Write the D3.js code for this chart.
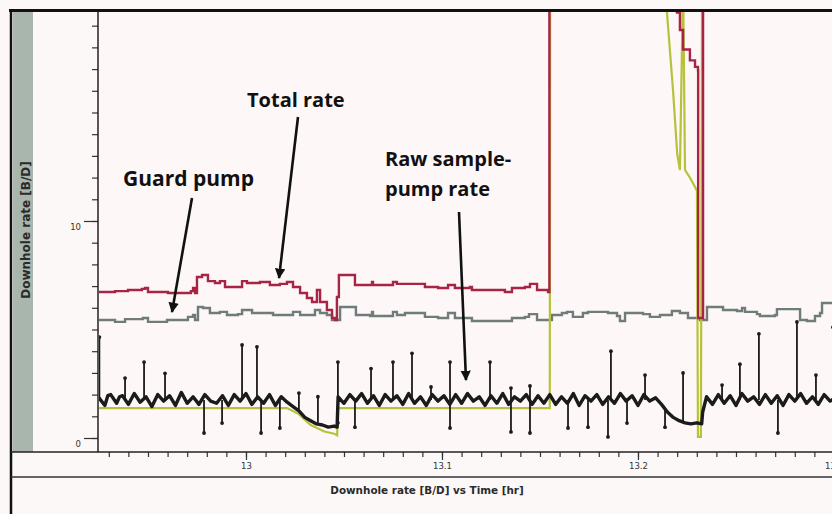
<!DOCTYPE html>
<html>
<head>
<meta charset="utf-8">
<script src="https://cdn.jsdelivr.net/npm/d3@7"></script>
<style>
  html, body { margin: 0; padding: 0; background: #fcf8f8; overflow: hidden; }
  svg { display: block; font-family: "Open Sans", "Liberation Sans", sans-serif; }
</style>
</head>
<body>
<div id="container"></div>
<script>
/* CONSTANTS AND GLOBALS */
const width = 832;
const height = 514;
const plot = { left: 98, right: 882, top: 12, bottom: 452 };

/* DATA  (time [hr], rate [B/D]) */
const totalRate = [
  [12.9245, 6.73], [12.9332, 6.77], [12.9398, 6.82], [12.9469, 6.87], [12.9485, 6.91], [12.95, 6.73],
  [12.9602, 6.68], [12.9719, 6.77], [12.973, 6.91], [12.974, 6.68], [12.975, 7.42], [12.9776, 7.51],
  [12.9806, 7.23], [12.9842, 7.14], [12.9867, 7.23], [12.9893, 6.96], [12.9959, 6.96], [12.998, 7.23],
  [13.0005, 7.14], [13.0071, 7.19], [13.0122, 7.05], [13.0173, 7.10], [13.0209, 7.19], [13.024, 6.96],
  [13.0276, 6.68], [13.0311, 6.45], [13.0337, 6.27], [13.0362, 6.82], [13.0378, 6.27], [13.0413, 5.90],
  [13.0439, 5.53], [13.0454, 5.44], [13.0464, 6.50], [13.0474, 7.51], [13.0546, 7.51], [13.0556, 7.05],
  [13.0633, 7.05], [13.0643, 7.19], [13.0648, 7.05], [13.0745, 7.05], [13.075, 7.19], [13.077, 7.10],
  [13.0811, 7.10], [13.0913, 6.96], [13.098, 6.91], [13.1031, 7.05], [13.1066, 6.91], [13.1143, 6.96],
  [13.1153, 6.82], [13.1321, 6.73], [13.1357, 6.91], [13.1423, 6.96], [13.1449, 7.10], [13.1485, 6.82],
  [13.1541, 6.73], [13.1548, 21], [13.2195, 21], [13.2199, 19.6], [13.2214, 18.8], [13.223, 17.9],
  [13.2265, 17.4], [13.2291, 17.1], [13.2306, 16.96], [13.2307, 5.53], [13.2327, 5.53], [13.2332, 21],
  [13.301, 21]
];

const guardPump = [
  [12.9245, 5.44], [12.9332, 5.35], [12.9383, 5.48], [12.9474, 5.53], [12.95, 5.35], [12.9597, 5.44],
  [12.9704, 5.58], [12.973, 5.67], [12.974, 5.44], [12.9755, 6.04], [12.9781, 5.99], [12.9816, 5.76],
  [12.9867, 5.81], [12.9903, 5.67], [12.9959, 5.71], [12.998, 5.90], [13.0031, 5.76], [13.0087, 5.76],
  [13.0138, 5.67], [13.024, 5.81], [13.0276, 5.67], [13.0352, 5.90], [13.0378, 5.76], [13.0413, 5.67],
  [13.0439, 5.44], [13.0469, 5.44], [13.048, 6.04], [13.0546, 6.04], [13.0561, 5.67], [13.0633, 5.62],
  [13.0643, 5.81], [13.0648, 5.62], [13.0735, 5.62], [13.075, 5.81], [13.077, 5.67], [13.0811, 5.76],
  [13.0913, 5.58], [13.098, 5.53], [13.1031, 5.76], [13.1066, 5.53], [13.1153, 5.39], [13.1321, 5.39],
  [13.1357, 5.53], [13.1423, 5.58], [13.1444, 5.71], [13.1485, 5.44], [13.1541, 5.44], [13.1561, 5.67],
  [13.1612, 5.76], [13.1638, 5.81], [13.1668, 5.58], [13.1719, 5.76], [13.1745, 5.81], [13.1821, 5.81],
  [13.1847, 5.76], [13.1893, 5.62], [13.1908, 5.39], [13.1934, 5.76], [13.2026, 5.71], [13.2061, 5.58],
  [13.2112, 5.67], [13.2173, 5.85], [13.2214, 5.76], [13.2255, 5.53], [13.2316, 5.44], [13.2332, 5.44],
  [13.2352, 6.04], [13.2418, 6.04], [13.2434, 5.90], [13.2505, 5.85], [13.2531, 5.99], [13.2546, 5.81],
  [13.2607, 5.71], [13.2622, 5.62], [13.2699, 5.67], [13.2709, 5.94], [13.2811, 5.94], [13.2827, 5.44],
  [13.2862, 5.39], [13.2903, 5.62], [13.2929, 5.76], [13.2939, 6.22], [13.301, 6.22]
];

const rawSample = [
  [12.925, 1.85], [12.928, 1.5], [12.9295, 1.95], [12.931, 2.0], [12.934, 1.6], [12.9355, 1.9],
  [12.937, 1.95], [12.940, 1.55], [12.943, 2.05], [12.946, 1.65], [12.949, 1.9], [12.952, 1.45],
  [12.955, 2.0], [12.958, 1.7], [12.961, 1.95], [12.964, 1.5], [12.967, 2.1], [12.970, 1.6],
  [12.973, 1.9], [12.976, 1.55], [12.979, 2.0], [12.982, 1.7], [12.985, 1.6], [12.988, 1.95],
  [12.991, 1.5], [12.994, 2.0], [12.997, 1.7], [13.000, 2.05], [13.003, 1.55], [13.006, 1.9],
  [13.009, 1.6], [13.012, 2.0], [13.015, 1.5], [13.018, 1.9], [13.021, 1.65], [13.024, 1.45],
  [13.027, 1.25], [13.030, 0.95], [13.033, 0.8], [13.036, 0.65], [13.039, 0.6], [13.042, 0.5],
  [13.045, 0.55], [13.0465, 0.5], [13.047, 1.9], [13.050, 1.6], [13.053, 2.0], [13.056, 1.7],
  [13.059, 2.05], [13.062, 1.6], [13.065, 1.95], [13.068, 1.5], [13.071, 2.0], [13.074, 1.7],
  [13.077, 1.95], [13.080, 1.55], [13.083, 2.05], [13.086, 1.6], [13.089, 1.9], [13.092, 1.5],
  [13.095, 2.0], [13.098, 1.7], [13.101, 1.95], [13.104, 1.55], [13.107, 2.0], [13.110, 1.6],
  [13.113, 2.05], [13.116, 1.7], [13.119, 1.9], [13.122, 1.5], [13.125, 1.95], [13.128, 1.6],
  [13.131, 2.05], [13.134, 1.55], [13.137, 1.9], [13.140, 1.7], [13.143, 2.0], [13.146, 1.55],
  [13.149, 1.95], [13.152, 1.6], [13.155, 2.0], [13.158, 1.55], [13.161, 1.9], [13.164, 1.6],
  [13.167, 2.05], [13.170, 1.5], [13.173, 1.95], [13.176, 1.7], [13.179, 2.0], [13.182, 1.55],
  [13.185, 1.9], [13.188, 1.6], [13.191, 2.05], [13.194, 1.7], [13.197, 1.95], [13.200, 1.5],
  [13.203, 2.0], [13.206, 1.7], [13.209, 1.85], [13.212, 1.55], [13.215, 1.2], [13.218, 0.95],
  [13.221, 0.8], [13.224, 0.7], [13.227, 0.65], [13.230, 0.7], [13.2325, 0.65], [13.233, 1.2],
  [13.235, 1.9], [13.238, 1.55], [13.241, 2.0], [13.244, 1.6], [13.247, 1.95], [13.250, 1.5],
  [13.253, 2.05], [13.256, 1.7], [13.259, 1.9], [13.262, 1.55], [13.265, 2.0], [13.268, 1.6],
  [13.271, 1.95], [13.274, 1.5], [13.277, 2.0], [13.280, 1.7], [13.283, 2.05], [13.286, 1.6],
  [13.289, 1.9], [13.292, 1.55], [13.295, 2.0], [13.298, 1.7], [13.301, 1.85]
];

// raw sample-pump spikes: [time, from, to]
const rawSpikes = [
  [12.9252, 1.75, 4.65], [12.9383, 1.75, 2.76], [12.948, 1.75, 3.5], [12.9587, 1.75, 2.98],
  [12.9786, 1.75, 0.23], [12.9878, 1.75, 0.69], [12.998, 1.75, 4.29], [13.0056, 1.75, 4.2],
  [13.0077, 1.75, 0.23], [13.0173, 1.75, 0.46], [13.027, 1.2, 2.07], [13.0367, 0.7, 1.9],
  [13.0469, 1.75, 3.5], [13.0469, 1.75, 0.7], [13.0556, 1.75, 0.5], [13.0638, 1.75, 3.2],
  [13.075, 1.75, 3.5], [13.0847, 1.75, 3.9], [13.0944, 1.75, 2.35], [13.1041, 1.75, 3.5],
  [13.1041, 1.75, 0.46], [13.1245, 1.75, 3.5], [13.1352, 1.75, 0.28], [13.1352, 1.75, 2.3],
  [13.1449, 1.75, 0.23], [13.1449, 1.75, 2.4], [13.1643, 1.75, 0.46], [13.1745, 1.75, 0.5],
  [13.1847, 1.75, 0.05], [13.1862, 1.75, 4.0], [13.1944, 1.75, 0.69], [13.2036, 1.75, 2.9],
  [13.2138, 1.4, 0.5], [13.223, 0.7, 3.0], [13.2429, 1.75, 2.44], [13.252, 1.75, 3.4],
  [13.2617, 1.75, 4.8], [13.2714, 1.75, 0.23], [13.2811, 1.75, 5.35], [13.2908, 1.75, 2.9],
  [13.2995, 1.75, 5.1]
];

const sampleYellow = [
  [12.9245, 1.38], [13.021, 1.38], [13.027, 1.1], [13.033, 0.6], [13.040, 0.3], [13.045, 0.2],
  [13.0465, 0.12], [13.047, 1.38], [13.155, 1.38], [13.1552, 21], [13.2145, 21], [13.2148, 19.6],
  [13.2179, 16.0], [13.219, 14.5], [13.22, 13.1], [13.2214, 12.35], [13.223, 21], [13.224, 12.35],
  [13.2265, 12.0], [13.2301, 11.4], [13.2306, 0.05], [13.2321, 0.05], [13.2327, 21], [13.301, 21]
];

const xMajor = [13, 13.1, 13.2, 13.3];
const yLabelled = [0, 10];

/* SVG */
const svg = d3.select("#container")
  .append("svg")
  .attr("width", width)
  .attr("height", height);

/* SCALES */
const xScale = d3.scaleLinear()
  .domain([12.9245, 13.3245])
  .range([plot.left, plot.right]);

const yScale = d3.scaleLinear()
  .domain([-0.645, 19.63])
  .range([plot.bottom, plot.top]);

/* FRAME */
svg.append("rect")
  .attr("x", 13).attr("y", 12)
  .attr("width", 20).attr("height", plot.bottom - 12)
  .attr("fill", "#a9b6ad");

svg.append("rect")
  .attr("x", plot.left).attr("y", plot.top)
  .attr("width", width - plot.left).attr("height", plot.bottom - plot.top)
  .attr("fill", "#fdf7f8");

// y axis title
svg.append("text")
  .attr("transform", `translate(30,${230}) rotate(-90)`)
  .attr("text-anchor", "middle")
  .style("font-family", "'DejaVu Sans', sans-serif")
  .style("font-size", "12px")
  .style("font-weight", "bold")
  .attr("fill", "#2a2a2a")
  .text("Downhole rate [B/D]");

/* AXES */
// Y minor ticks
svg.append("g")
  .attr("transform", `translate(${plot.left},0)`)
  .call(d3.axisLeft(yScale).tickValues(d3.range(0, 20)).tickSize(6).tickFormat(""))
  .call(g => g.select(".domain").remove())
  .call(g => g.selectAll("line").attr("stroke", "#333").attr("stroke-width", 1.2));

// Y labelled ticks
svg.append("g")
  .attr("transform", `translate(${plot.left},0)`)
  .call(d3.axisLeft(yScale).tickValues(yLabelled).tickSize(14).tickPadding(3))
  .call(g => g.select(".domain").remove())
  .call(g => g.selectAll("line").attr("stroke", "#333").attr("stroke-width", 1.2))
  .call(g => g.selectAll("text").attr("dy", "0.95em").attr("fill", "#333")
    .style("font-size", "8.5px").style("font-family", "'DejaVu Sans', sans-serif"));

svg.append("line")
  .attr("x1", plot.left).attr("x2", plot.left)
  .attr("y1", plot.top).attr("y2", plot.bottom)
  .attr("stroke", "#222").attr("stroke-width", 1.5);

// X minor ticks
svg.append("g")
  .attr("transform", `translate(0,${plot.bottom})`)
  .call(d3.axisBottom(xScale).tickValues(d3.range(12.93, 13.32, 0.01)).tickSize(5).tickFormat(""))
  .call(g => g.select(".domain").remove())
  .call(g => g.selectAll("line").attr("stroke", "#333").attr("stroke-width", 1.2));

// X labelled ticks
svg.append("g")
  .attr("transform", `translate(0,${plot.bottom})`)
  .call(d3.axisBottom(xScale).tickValues(xMajor).tickSize(8).tickPadding(3)
    .tickFormat(d => d3.format(".1~f")(d)))
  .call(g => g.select(".domain").remove())
  .call(g => g.selectAll("line").attr("stroke", "#333").attr("stroke-width", 1.2))
  .call(g => g.selectAll("text").attr("fill", "#333")
    .style("font-size", "8.5px").style("font-family", "'DejaVu Sans', sans-serif"));

/* SERIES */
svg.append("clipPath").attr("id", "clip")
  .append("rect")
  .attr("x", plot.left + 1).attr("y", plot.top)
  .attr("width", width - plot.left).attr("height", plot.bottom - plot.top - 1);

const series = svg.append("g").attr("clip-path", "url(#clip)");

const stepLine = d3.line()
  .x(d => xScale(d[0]))
  .y(d => yScale(d[1]))
  .curve(d3.curveStepAfter);

const plainLine = d3.line()
  .x(d => xScale(d[0]))
  .y(d => yScale(d[1]));

series.append("path")
  .datum(guardPump)
  .attr("d", stepLine)
  .attr("fill", "none")
  .attr("stroke", "#6f7c79")
  .attr("stroke-width", 2.4);

series.append("path")
  .datum(sampleYellow)
  .attr("d", plainLine)
  .attr("fill", "none")
  .attr("stroke", "#b7c23a")
  .attr("stroke-width", 2.2);

series.append("path")
  .datum(totalRate)
  .attr("d", stepLine)
  .attr("fill", "none")
  .attr("stroke", "#a82444")
  .attr("stroke-width", 2.4);

series.selectAll(".spike")
  .data(rawSpikes)
  .join("line")
  .attr("class", "spike")
  .attr("x1", d => xScale(d[0])).attr("x2", d => xScale(d[0]))
  .attr("y1", d => yScale(d[1])).attr("y2", d => yScale(d[2]))
  .attr("stroke", "#1b1b1b")
  .attr("stroke-width", 1.8);

series.selectAll(".tip")
  .data(rawSpikes)
  .join("circle")
  .attr("class", "tip")
  .attr("cx", d => xScale(d[0]))
  .attr("cy", d => yScale(d[2]))
  .attr("r", 1.9)
  .attr("fill", "#1b1b1b");

series.append("path")
  .datum(rawSample)
  .attr("d", plainLine)
  .attr("fill", "none")
  .attr("stroke", "#1b1b1b")
  .attr("stroke-width", 3.4)
  .attr("stroke-linejoin", "round");

/* FRAME LINES */
svg.append("line")
  .attr("x1", 9).attr("x2", width).attr("y1", 10.5).attr("y2", 10.5)
  .attr("stroke", "#111").attr("stroke-width", 3);
svg.append("line")
  .attr("x1", 11).attr("x2", 11).attr("y1", 9).attr("y2", height)
  .attr("stroke", "#111").attr("stroke-width", 2.5);
svg.append("line")
  .attr("x1", 11).attr("x2", width).attr("y1", plot.bottom).attr("y2", plot.bottom)
  .attr("stroke", "#222").attr("stroke-width", 1.6);
svg.append("line")
  .attr("x1", 11).attr("x2", width).attr("y1", 477).attr("y2", 477)
  .attr("stroke", "#333").attr("stroke-width", 1.5);

// x axis title
svg.append("text")
  .attr("x", 427).attr("y", 494)
  .attr("text-anchor", "middle")
  .style("font-family", "'DejaVu Sans', sans-serif")
  .style("font-size", "10.4px")
  .style("font-weight", "bold")
  .attr("fill", "#2a2a2a")
  .text("Downhole rate [B/D] vs Time [hr]");

/* ANNOTATIONS */
svg.append("defs").append("marker")
  .attr("id", "arrow")
  .attr("viewBox", "0 0 10 10")
  .attr("refX", 9).attr("refY", 5)
  .attr("markerWidth", 4).attr("markerHeight", 4)
  .attr("markerUnits", "strokeWidth")
  .attr("orient", "auto")
  .append("path")
  .attr("d", "M0,0 L10,5 L0,10 z")
  .attr("fill", "#111");

const notes = svg.append("g")
  .style("font-family", "'Open Sans', sans-serif")
  .style("font-size", "20px")
  .style("font-weight", "bold")
  .attr("fill", "#111");

notes.append("text").attr("x", 247).attr("y", 107).text("Total rate");
notes.append("text").attr("x", 123).attr("y", 186).style("font-size", "21px").text("Guard pump");
notes.append("text").attr("x", 385).attr("y", 166).text("Raw sample-");
notes.append("text").attr("x", 385).attr("y", 196).text("pump rate");

const arrows = [
  [298, 117, 279, 278],
  [192, 198, 172, 312],
  [459, 212, 466, 380]
];
svg.selectAll(".arrow")
  .data(arrows)
  .join("line")
  .attr("class", "arrow")
  .attr("x1", d => d[0]).attr("y1", d => d[1])
  .attr("x2", d => d[2]).attr("y2", d => d[3])
  .attr("stroke", "#111")
  .attr("stroke-width", 2.6)
  .attr("marker-end", "url(#arrow)");
</script>
</body>
</html>
